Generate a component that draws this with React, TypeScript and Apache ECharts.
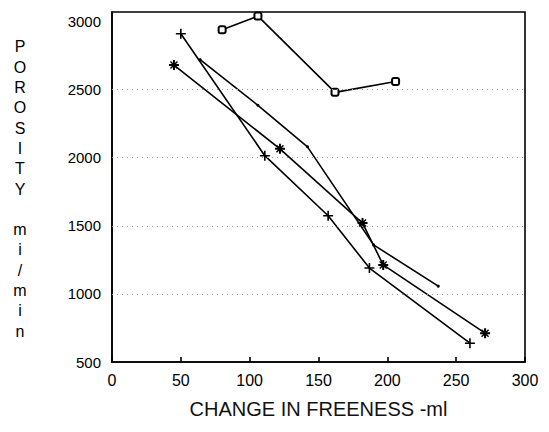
import React, { useEffect, useRef } from "react";
import * as echarts from "echarts";

// Change in freeness (ml) for each run
const squareX = [80, 106, 162, 206];
const squareY = [2940, 3040, 2480, 2560];

const starX = [45, 122, 182, 197, 271];
const starY = [2680, 2065, 1520, 1213, 712];

const plusX = [50, 111, 157, 187, 260];
const plusY = [2910, 2015, 1574, 1190, 638];

const plainX = [64, 106, 142, 190, 237];
const plainY = [2720, 2385, 2080, 1360, 1057];

const gridValues = [1000, 1500, 2000, 2500];
const yTitle = ["P", "O", "R", "O", "S", "I", "T", "Y", "", "m", "i", "/", "m", "i", "n"];

const FONT = "'Liberation Sans', Arial, Helvetica, sans-serif";

const ASTERISK =
  "path://M0,4L10,4L10,6L0,6Z M4,0L6,0L6,10L4,10Z M1,2L2,1L9,8L8,9Z M8,1L9,2L2,9L1,8Z";
const PLUS = "path://M4.2,0L5.8,0L5.8,4.2L10,4.2L10,5.8L5.8,5.8L5.8,10L4.2,10L4.2,5.8L0,5.8L0,4.2L4.2,4.2Z";

const pairs = (xs: number[], ys: number[]) => xs.map((x, i) => [x, ys[i]]);

export default function App() {
  const ref = useRef<HTMLDivElement>(null);

  useEffect(() => {
    if (!ref.current) return;
    const chart = echarts.init(ref.current, undefined, { renderer: "svg" });
    const lineStyle = { color: "#000", width: 1.6 };
    chart.setOption({
      animation: false,
      backgroundColor: "#fff",
      grid: {
        left: 112,
        right: 24,
        top: 12,
        bottom: 70,
        show: true,
        borderColor: "#000",
        borderWidth: 1.6,
        backgroundColor: "transparent",
      },
      xAxis: {
        type: "value",
        min: 0,
        max: 300,
        interval: 50,
        name: "CHANGE IN FREENESS -ml",
        nameLocation: "middle",
        nameGap: 37,
        nameTextStyle: { color: "#111", fontSize: 20, fontFamily: FONT },
        axisLine: { show: true, lineStyle: { color: "#000", width: 1.6 } },
        axisTick: { show: true, inside: true, length: 5, lineStyle: { color: "#000", width: 1.6 } },
        axisLabel: { color: "#000", fontSize: 16, fontFamily: FONT, margin: 10 },
        splitLine: { show: false },
      },
      yAxis: {
        type: "value",
        min: 500,
        max: 3070,
        interval: 500,
        axisLine: { show: true, lineStyle: { color: "#000", width: 1.6 } },
        axisTick: { show: false },
        axisLabel: {
          color: "#000",
          fontSize: 15,
          fontFamily: FONT,
          margin: 11,
          formatter: (v: number) => (v % 500 === 0 ? String(v) : ""),
        },
        splitLine: { show: false },
      },
      graphic: [
        {
          type: "text",
          x: 20,
          y: 189,
          style: {
            text: yTitle.join("\n"),
            fill: "#000",
            font: `16px ${FONT}`,
            lineHeight: 20.3,
            align: "center",
            verticalAlign: "middle",
          },
        },
      ],
      series: [
        {
          type: "line",
          data: pairs(squareX, squareY),
          symbol: "roundRect",
          symbolSize: 7,
          lineStyle,
          itemStyle: { color: "#fff", borderColor: "#000", borderWidth: 2 },
          markLine: {
            silent: true,
            symbol: "none",
            label: { show: false },
            lineStyle: { color: "#999", type: [1, 4], width: 1 },
            data: gridValues.map((v) => ({ yAxis: v })),
          },
          z: 3,
        },
        {
          type: "line",
          data: pairs(starX, starY),
          symbol: ASTERISK,
          symbolSize: 10,
          lineStyle,
          itemStyle: { color: "#000" },
          z: 3,
        },
        {
          type: "line",
          data: pairs(plusX, plusY),
          symbol: PLUS,
          symbolSize: 10,
          lineStyle,
          itemStyle: { color: "#000" },
          z: 3,
        },
        {
          type: "line",
          data: pairs(plainX, plainY),
          symbol: "circle",
          symbolSize: 3,
          lineStyle,
          itemStyle: { color: "#000" },
          z: 3,
        },
      ],
    });
    return () => chart.dispose();
  }, []);

  return (
    <div
      ref={ref}
      style={{ position: "fixed", left: 0, top: 0, width: 549, height: 432, background: "#fff" }}
    />
  );
}
